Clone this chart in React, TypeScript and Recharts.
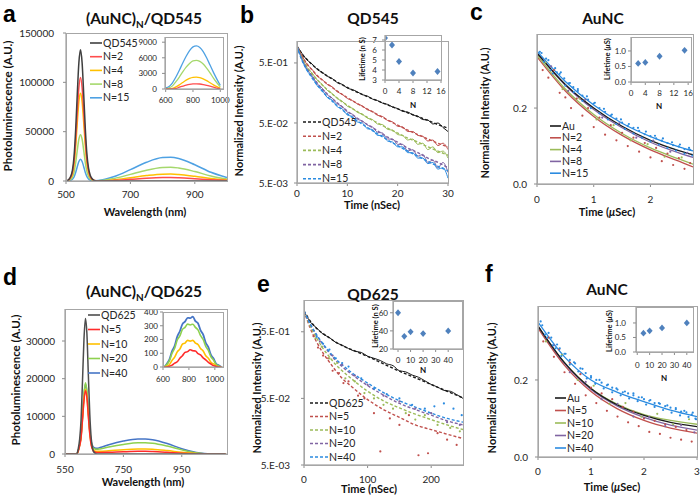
import React from "react";
import { ComposedChart, Line, Scatter, XAxis, YAxis } from "recharts";

const FONT = "Lato, 'Open Sans', sans-serif";
const AXIS = "#8c8c8c";
const FRAME = "#a6a6a6";
const TXT = "#262626";

// ---------- panel a : (AuNC)N/QD545 spectra ----------
const aWave = [500, 505, 510, 515, 520, 525, 530, 535, 540, 545, 550, 555, 560, 565, 570, 575, 580, 585, 590, 600, 650, 700, 750, 800, 825, 850, 900, 950, 1000];
const aQD545 = [0, 500, 2000, 5000, 11000, 25000, 52000, 88000, 120000, 133000, 120000, 88000, 53000, 27000, 13000, 6000, 2800, 1200, 400, 0, 0, 0, 0, 0, 0, 0, 0, 0, 0];
const aN2 = [0, 400, 1600, 4000, 8700, 19800, 41100, 69500, 94800, 105000, 94800, 69500, 41900, 21300, 10300, 4700, 2200, 950, 400, 100, 650, 1700, 2800, 3450, 3500, 3300, 2400, 1300, 500];
const aN4 = [0, 330, 1340, 3350, 7400, 16800, 34800, 59000, 80400, 89000, 80400, 59000, 35500, 18100, 8700, 4000, 1900, 800, 350, 150, 1300, 3400, 5500, 6900, 7000, 6600, 4800, 2600, 1000];
const aN8 = [0, 180, 700, 1800, 3900, 8800, 18400, 31100, 42400, 47000, 42400, 31100, 18700, 9500, 4600, 2100, 1000, 500, 300, 300, 2600, 6700, 11000, 13700, 14000, 13200, 9600, 5100, 2000];
const aN15 = [0, 80, 330, 830, 1800, 4100, 8600, 14500, 19800, 22000, 19800, 14500, 8700, 4500, 2100, 1000, 500, 350, 350, 500, 4500, 11500, 19000, 23700, 24000, 22800, 16500, 8800, 3500];
const aYTicks = [0, 50000, 100000, 150000];
const aXTicks = [500, 700, 900];

const aInWave = [600, 625, 650, 675, 700, 725, 750, 775, 800, 825, 850, 875, 900, 925, 950, 975, 1000];
const aInN15 = [200, 500, 1200, 2300, 3600, 5000, 6300, 7400, 8100, 8300, 8000, 7200, 6000, 4600, 3200, 1900, 700];
const aInN8 = [0, 200, 600, 1400, 2300, 3300, 4200, 4900, 5400, 5500, 5300, 4800, 4000, 3100, 2100, 1200, 400];
const aInN4 = [0, 0, 100, 400, 800, 1250, 1700, 2050, 2250, 2300, 2200, 1950, 1600, 1200, 800, 450, 150];
const aInN2 = [0, 0, 0, 100, 350, 550, 750, 900, 980, 1000, 960, 850, 700, 530, 350, 180, 50];
const aInYTicks = [0, 3000, 6000, 9000];
const aInXTicks = [600, 800, 1000];

// ---------- panel b : QD545 decays ----------
const bDataT = [0, 1, 2, 3, 4, 5, 6, 7, 8, 9, 10, 11, 12, 13, 14, 15, 16, 17, 18, 19, 20, 21, 22, 23, 24, 25, 26, 27, 28, 29, 30];
const bDataQD = [0.97, 0.72, 0.56, 0.48, 0.39, 0.35, 0.3, 0.275, 0.235, 0.22, 0.19, 0.18, 0.165, 0.148, 0.14, 0.125, 0.118, 0.107, 0.102, 0.092, 0.087, 0.078, 0.076, 0.068, 0.065, 0.057, 0.056, 0.048, 0.05, 0.042, 0.036];
const bDataN2 = [0.96, 0.66, 0.47, 0.39, 0.3, 0.265, 0.22, 0.2, 0.165, 0.15, 0.128, 0.118, 0.104, 0.096, 0.083, 0.078, 0.067, 0.064, 0.055, 0.052, 0.044, 0.043, 0.036, 0.036, 0.031, 0.03, 0.025, 0.026, 0.021, 0.023, 0.018];
const bDataN4 = [0.96, 0.61, 0.42, 0.34, 0.26, 0.22, 0.175, 0.155, 0.127, 0.115, 0.095, 0.088, 0.075, 0.07, 0.06, 0.057, 0.048, 0.047, 0.039, 0.038, 0.032, 0.031, 0.026, 0.027, 0.022, 0.023, 0.018, 0.02, 0.016, 0.017, 0.013];
const bDataN8 = [0.96, 0.58, 0.39, 0.31, 0.225, 0.19, 0.148, 0.13, 0.104, 0.094, 0.076, 0.07, 0.058, 0.054, 0.046, 0.043, 0.035, 0.034, 0.027, 0.027, 0.022, 0.022, 0.017, 0.018, 0.014, 0.015, 0.011, 0.012, 0.009, 0.011, 0.0075];
const bDataN15 = [0.96, 0.56, 0.37, 0.29, 0.21, 0.175, 0.133, 0.12, 0.093, 0.086, 0.068, 0.064, 0.052, 0.05, 0.04, 0.039, 0.031, 0.031, 0.025, 0.024, 0.02, 0.02, 0.016, 0.016, 0.013, 0.013, 0.0105, 0.011, 0.0085, 0.009, 0.006];
const bFitT = [0, 1, 2, 3, 4, 5, 6, 7, 8, 10, 12, 14, 16, 18, 20, 22, 24, 26, 28, 30];
const bFitQD = [0.95, 0.7, 0.57, 0.47, 0.4, 0.345, 0.305, 0.27, 0.24, 0.195, 0.162, 0.137, 0.117, 0.1, 0.086, 0.074, 0.064, 0.055, 0.047, 0.041];
const bFitN2 = [0.95, 0.65, 0.48, 0.38, 0.31, 0.26, 0.225, 0.195, 0.17, 0.132, 0.105, 0.085, 0.069, 0.056, 0.046, 0.038, 0.032, 0.027, 0.023, 0.02];
const bFitN4 = [0.95, 0.6, 0.43, 0.33, 0.265, 0.215, 0.18, 0.152, 0.13, 0.098, 0.077, 0.062, 0.05, 0.041, 0.034, 0.028, 0.024, 0.02, 0.017, 0.0145];
const bFitN8 = [0.95, 0.57, 0.4, 0.3, 0.232, 0.185, 0.152, 0.127, 0.108, 0.079, 0.06, 0.047, 0.037, 0.029, 0.024, 0.019, 0.016, 0.013, 0.011, 0.009];
const bFitN15 = [0.95, 0.55, 0.38, 0.28, 0.215, 0.17, 0.138, 0.115, 0.097, 0.071, 0.054, 0.042, 0.033, 0.026, 0.021, 0.017, 0.014, 0.0115, 0.0095, 0.008];
const logTicks = [0.005, 0.05, 0.5];
const bXTicks = [0, 10, 20, 30];

const bInN = [0, 2, 4, 8, 15];
const bInLife = [7.2, 6.5, 4.85, 3.7, 3.85];

// ---------- panel c : AuNC decays (QD545 series) ----------
const cFitT = [0, 0.5, 1, 1.5, 2, 2.5, 2.75];
const cFitAu = [0.345, 0.262, 0.2, 0.152, 0.115, 0.088, 0.077];
const cFitN2 = [0.335, 0.245, 0.178, 0.128, 0.09, 0.06, 0.045];
const cFitN4 = [0.34, 0.25, 0.183, 0.133, 0.095, 0.066, 0.052];
const cFitN8 = [0.345, 0.26, 0.196, 0.148, 0.11, 0.082, 0.07];
const cFitN15 = [0.35, 0.27, 0.208, 0.16, 0.125, 0.098, 0.087];
const cDotT15 = [0.05, 0.12, 0.2, 0.28, 0.35, 0.42, 0.5, 0.58, 0.65, 0.72, 0.8, 0.88, 0.95, 1.02, 1.1, 1.18, 1.25, 1.32, 1.4, 1.48, 1.55, 1.62, 1.7, 1.78, 1.85, 1.92, 2.0, 2.08, 2.15, 2.22, 2.3, 2.38, 2.45, 2.52, 2.6, 2.68, 2.74];
const cDotN15 = [0.348, 0.322, 0.326, 0.291, 0.294, 0.294, 0.259, 0.266, 0.242, 0.25, 0.219, 0.231, 0.2, 0.214, 0.186, 0.198, 0.17, 0.183, 0.158, 0.17, 0.145, 0.158, 0.133, 0.148, 0.122, 0.138, 0.112, 0.127, 0.104, 0.12, 0.095, 0.11, 0.088, 0.104, 0.08, 0.095, 0.075];
const cDotT15b = [0.08, 0.16, 0.24, 0.32, 0.4, 0.48, 0.56, 0.64, 0.72, 0.8, 0.9, 1.0, 1.1, 1.2, 1.3, 1.4, 1.5, 1.6, 1.7, 1.8, 1.9, 2.0, 2.1, 2.2, 2.3, 2.4, 2.5, 2.6, 2.7];
const cDotN15b = [0.345, 0.33, 0.3, 0.305, 0.29, 0.278, 0.265, 0.255, 0.245, 0.233, 0.222, 0.212, 0.2, 0.19, 0.18, 0.172, 0.162, 0.153, 0.148, 0.14, 0.131, 0.126, 0.12, 0.114, 0.108, 0.102, 0.099, 0.092, 0.09];
const cDotT2 = [0.1, 0.2, 0.3, 0.4, 0.5, 0.6, 0.7, 0.8, 0.9, 1.0, 1.1, 1.2, 1.3, 1.4, 1.5, 1.6, 1.7, 1.8, 1.9, 2.0, 2.1, 2.2, 2.3, 2.4, 2.5, 2.6, 2.7];
const cDotN2 = [0.3, 0.28, 0.3, 0.24, 0.228, 0.2, 0.225, 0.18, 0.2, 0.15, 0.175, 0.13, 0.155, 0.115, 0.135, 0.1, 0.122, 0.085, 0.108, 0.07, 0.095, 0.06, 0.08, 0.05, 0.068, 0.04, 0.055];
const cDotT4 = [0.15, 0.45, 0.75, 1.05, 1.35, 1.65, 1.95, 2.25, 2.55];
const cDotN4 = [0.32, 0.25, 0.225, 0.17, 0.155, 0.115, 0.105, 0.072, 0.07];
const cDotT8 = [0.25, 0.55, 0.85, 1.15, 1.45, 1.75, 2.05, 2.35, 2.65];
const cDotN8 = [0.31, 0.245, 0.222, 0.175, 0.16, 0.122, 0.114, 0.085, 0.082];
const cXTicks = [0, 1, 2];
const linYTicks = [0, 0.2];

const cInN = [2, 4, 8, 15];
const cInLife = [0.6, 0.63, 0.83, 1.02];
const usInYTicks = [0, 0.5, 1];
const n16Ticks = [0, 4, 8, 12, 16];

// ---------- panel d : (AuNC)N/QD625 spectra ----------
const dWave = [550, 590, 595, 600, 605, 610, 615, 620, 625, 630, 635, 640, 645, 650, 660, 670, 700, 750, 800, 825, 850, 900, 950, 1000, 1050, 1100];
const dQD625 = [0, 0, 1200, 3800, 9000, 19500, 30500, 36000, 32000, 21000, 10500, 4000, 1300, 400, 0, 0, 0, 0, 0, 0, 0, 0, 0, 0, 0, 0];
const dN5 = [0, 0, 700, 2100, 4300, 9100, 14200, 16800, 15000, 10000, 5200, 2300, 1100, 600, 400, 400, 450, 600, 700, 700, 650, 450, 200, 50, 0, 0];
const dN10 = [0, 0, 700, 2200, 4400, 9300, 14500, 17200, 15300, 10300, 5500, 2500, 1300, 850, 700, 700, 850, 1150, 1300, 1300, 1250, 900, 450, 120, 0, 0];
const dN20 = [0, 0, 800, 2400, 4900, 10200, 15900, 18900, 16800, 11400, 6100, 3000, 1800, 1400, 1250, 1350, 1850, 2550, 3000, 3000, 2850, 2100, 1100, 300, 0, 0];
const dN40 = [0, 0, 800, 2350, 4800, 10000, 15600, 18500, 16500, 11300, 6200, 3200, 2100, 1700, 1500, 1700, 2450, 3450, 4000, 4000, 3800, 2800, 1400, 400, 0, 0];
const dYTicks = [0, 10000, 20000, 30000];
const dXTicks = [550, 750, 950];

const dInWave = [610, 630, 650, 670, 690, 710, 730, 750, 770, 790, 810, 830, 850, 870, 890, 910, 930, 950, 970, 990, 1010, 1030, 1050];
const dInN40 = [0, 24, 55, 116, 154, 222, 260, 312, 330, 358, 355, 366, 334, 318, 266, 236, 176, 144, 88, 62, 22, 12, 0];
const dInN20 = [0, 18, 46, 100, 136, 196, 226, 274, 288, 312, 306, 311, 288, 270, 228, 200, 150, 120, 74, 50, 18, 8, 0];
const dInN10 = [0, 6, 18, 48, 72, 110, 130, 166, 174, 194, 188, 194, 174, 164, 134, 116, 82, 64, 34, 22, 6, 0, 0];
const dInN5 = [0, 0, 6, 14, 28, 38, 64, 82, 106, 112, 126, 118, 116, 98, 88, 66, 52, 34, 22, 10, 4, 0, 0];
const dInYTicks = [0, 100, 200, 300, 400];
const dInXTicks = [600, 800, 1000];

// ---------- panel e : QD625 decays ----------
const eDataT = [0, 10, 20, 30, 40, 50, 60, 70, 80, 90, 100, 110, 120, 130, 140, 150, 160, 170, 180, 190, 200, 210, 220, 230, 240, 250];
const eDataQD = [1.02, 0.7, 0.57, 0.46, 0.41, 0.345, 0.315, 0.28, 0.255, 0.245, 0.215, 0.2, 0.185, 0.165, 0.155, 0.13, 0.125, 0.112, 0.104, 0.092, 0.081, 0.074, 0.066, 0.064, 0.057, 0.05];
const eFitT = [0, 10, 20, 30, 40, 50, 60, 75, 100, 125, 150, 175, 200, 225, 250];
const eFitQD = [1.03, 0.72, 0.56, 0.47, 0.405, 0.35, 0.31, 0.27, 0.213, 0.165, 0.128, 0.102, 0.081, 0.064, 0.051];
const eFitN5 = [1.03, 0.56, 0.35, 0.24, 0.175, 0.13, 0.1, 0.075, 0.048, 0.034, 0.026, 0.02, 0.017, 0.0145, 0.0125];
const eFitN10 = [1.03, 0.6, 0.4, 0.28, 0.21, 0.16, 0.13, 0.098, 0.064, 0.046, 0.036, 0.029, 0.024, 0.02, 0.017];
const eFitN20 = [1.03, 0.64, 0.44, 0.32, 0.24, 0.185, 0.15, 0.115, 0.078, 0.056, 0.042, 0.034, 0.028, 0.023, 0.02];
const eFitN40 = [1.03, 0.65, 0.45, 0.33, 0.25, 0.195, 0.16, 0.122, 0.085, 0.061, 0.046, 0.037, 0.03, 0.025, 0.022];
const eDotT5 = [15, 22, 30, 38, 45, 55, 62, 70, 85, 95, 110, 120, 135, 150, 165, 180, 195, 210, 225, 240];
const eDotN5 = [0.43, 0.29, 0.22, 0.2, 0.13, 0.12, 0.085, 0.09, 0.055, 0.05, 0.03, 0.008, 0.025, 0.02, 0.028, 0.007, 0.0075, 0.015, 0.012, 0.01];
const eDotT10 = [18, 28, 40, 52, 65, 80, 95, 110, 125, 140, 160, 175, 190, 210, 230, 245];
const eDotN10 = [0.4, 0.3, 0.2, 0.17, 0.1, 0.09, 0.06, 0.05, 0.04, 0.035, 0.03, 0.024, 0.028, 0.02, 0.018, 0.016];
const eDotT20 = [25, 45, 60, 80, 100, 125, 150, 175, 200, 225, 245];
const eDotN20 = [0.36, 0.22, 0.16, 0.11, 0.08, 0.055, 0.045, 0.035, 0.03, 0.022, 0.02];
const eDotT40 = [20, 30, 40, 50, 60, 70, 90, 110, 130, 150, 170, 190, 205, 220, 235, 248];
const eDotN40 = [0.42, 0.33, 0.27, 0.2, 0.17, 0.15, 0.1, 0.07, 0.058, 0.05, 0.04, 0.035, 0.038, 0.042, 0.035, 0.028];
const eXTicks = [0, 100, 200];

const eInN = [0, 5, 10, 20, 40];
const eInLife = [60, 34, 39, 37, 40];
const eInYTicks = [20, 40, 60];
const n40Ticks = [0, 10, 20, 30, 40];

// ---------- panel f : AuNC decays (QD625 series) ----------
const fFitT = [0, 0.5, 1, 1.5, 2, 2.5, 3];
const fFitAu = [0.34, 0.245, 0.178, 0.135, 0.108, 0.09, 0.079];
const fFitN5 = [0.335, 0.238, 0.17, 0.125, 0.095, 0.075, 0.062];
const fFitN10 = [0.34, 0.245, 0.178, 0.137, 0.11, 0.095, 0.085];
const fFitN20 = [0.34, 0.243, 0.175, 0.132, 0.103, 0.083, 0.07];
const fFitN40 = [0.35, 0.26, 0.2, 0.168, 0.144, 0.122, 0.105];
const fDotT40 = [0.05, 0.13, 0.2, 0.28, 0.36, 0.44, 0.52, 0.6, 0.68, 0.76, 0.84, 0.92, 1.0, 1.08, 1.16, 1.24, 1.32, 1.4, 1.48, 1.56, 1.64, 1.72, 1.8, 1.88, 1.96, 2.04, 2.12, 2.2, 2.28, 2.36, 2.44, 2.52, 2.6, 2.68, 2.76, 2.84, 2.92, 2.98];
const fDotN40 = [0.352, 0.318, 0.322, 0.29, 0.292, 0.262, 0.268, 0.24, 0.246, 0.222, 0.229, 0.204, 0.21, 0.19, 0.2, 0.178, 0.188, 0.168, 0.178, 0.16, 0.17, 0.152, 0.165, 0.145, 0.155, 0.136, 0.148, 0.13, 0.14, 0.122, 0.134, 0.115, 0.127, 0.108, 0.12, 0.104, 0.115, 0.098];
const fDotT40b = [0.08, 0.17, 0.25, 0.33, 0.41, 0.5, 0.6, 0.7, 0.8, 0.9, 1.0, 1.1, 1.2, 1.3, 1.4, 1.5, 1.6, 1.7, 1.8, 1.9, 2.0, 2.1, 2.2, 2.3, 2.4, 2.5, 2.6, 2.7, 2.8, 2.9, 2.97];
const fDotN40b = [0.342, 0.31, 0.31, 0.282, 0.282, 0.268, 0.252, 0.243, 0.23, 0.218, 0.206, 0.2, 0.193, 0.186, 0.18, 0.175, 0.168, 0.165, 0.16, 0.155, 0.15, 0.146, 0.14, 0.138, 0.132, 0.128, 0.124, 0.118, 0.116, 0.11, 0.1];
const fDotT5 = [0.1, 0.2, 0.3, 0.4, 0.5, 0.6, 0.7, 0.8, 0.9, 1.0, 1.1, 1.2, 1.3, 1.4, 1.5, 1.6, 1.7, 1.8, 1.9, 2.0, 2.1, 2.2, 2.3, 2.4, 2.5, 2.6, 2.7, 2.8, 2.9];
const fDotN5 = [0.3, 0.31, 0.26, 0.28, 0.22, 0.245, 0.19, 0.215, 0.16, 0.18, 0.14, 0.165, 0.12, 0.15, 0.105, 0.13, 0.09, 0.118, 0.08, 0.1, 0.065, 0.094, 0.06, 0.085, 0.05, 0.078, 0.045, 0.07, 0.04];
const fDotT10 = [0.15, 0.45, 0.75, 1.05, 1.35, 1.65, 1.95, 2.25, 2.55, 2.85];
const fDotN10 = [0.3, 0.265, 0.2, 0.185, 0.138, 0.14, 0.105, 0.112, 0.085, 0.098];
const fDotT20 = [0.3, 0.6, 0.9, 1.2, 1.5, 1.8, 2.1, 2.4, 2.7, 2.95];
const fDotN20 = [0.29, 0.22, 0.195, 0.15, 0.138, 0.105, 0.104, 0.08, 0.083, 0.064];
const fXTicks = [0, 1, 2, 3];

const fInN = [5, 10, 20, 40];
const fInLife = [0.65, 0.73, 0.83, 1.0];

// ---------- layout ----------
type Box = { x0: number; y0: number; x1: number; y1: number };
const BOX: Record<string, Box> = {
  a: { x0: 66, y0: 33, x1: 227, y1: 181 },
  b: { x0: 297, y0: 41, x1: 448, y1: 183 },
  c: { x0: 537, y0: 34, x1: 693, y1: 184 },
  d: { x0: 65, y0: 309, x1: 227, y1: 454 },
  e: { x0: 304, y0: 300, x1: 463, y1: 465 },
  f: { x0: 538, y0: 306, x1: 697, y1: 457 },
  ai: { x0: 165, y0: 37, x1: 223, y1: 89 },
  bi: { x0: 385, y0: 35, x1: 441, y1: 80 },
  ci: { x0: 631, y0: 37, x1: 691, y1: 82 },
  di: { x0: 163, y0: 312, x1: 223, y1: 367 },
  ei: { x0: 393, y0: 301, x1: 462, y1: 349 },
  fi: { x0: 636, y0: 307, x1: 693, y1: 352 },
};

const rows = (xs: number[], ys: number[]) => xs.map((x, i) => ({ x, y: ys[i] }));

function Plot({ box, yw, xh, children }: { box: Box; yw: number; xh: number; children: React.ReactNode }) {
  const mt = 8;
  const mr = 12;
  return (
    <div style={{ position: "absolute", left: box.x0 - yw, top: box.y0 - mt }}>
      <ComposedChart
        width={box.x1 - box.x0 + yw + mr}
        height={box.y1 - box.y0 + mt + xh}
        margin={{ top: mt, right: mr, bottom: 0, left: 0 }}
      >
        {children}
      </ComposedChart>
    </div>
  );
}

const tickStyle = (fs: number) => ({ fontSize: fs, fill: TXT, fontFamily: FONT });

function xAxis(domain: number[], ticks: number[], margin: number, fs = 10, h = 30) {
  return (
    <XAxis
      type="number"
      dataKey="x"
      domain={domain}
      ticks={ticks}
      interval={0}
      allowDataOverflow
      stroke={AXIS}
      tickSize={3}
      tickMargin={margin}
      height={h}
      tick={tickStyle(fs)}
    />
  );
}

function yAxis(domain: number[], ticks: number[], margin: number, fmt?: (v: number) => string, log = false, fs = 10, w = 60) {
  return (
    <YAxis
      type="number"
      dataKey="y"
      scale={log ? "log" : "auto"}
      domain={domain}
      ticks={ticks}
      interval={0}
      allowDataOverflow
      stroke={AXIS}
      tickSize={3}
      tickMargin={margin}
      width={w}
      tick={tickStyle(fs)}
      tickFormatter={fmt}
    />
  );
}

const fmtLog = (v: number) => (v >= 0.4 ? "5.E-01" : v >= 0.04 ? "5.E-02" : "5.E-03");
const fmt1 = (v: number) => v.toFixed(1);

function curve(key: string, xs: number[], ys: number[], color: string, width = 1.5, dash?: string) {
  return (
    <Line
      key={key}
      data={rows(xs, ys)}
      dataKey="y"
      type="monotone"
      stroke={color}
      strokeWidth={width}
      strokeDasharray={dash}
      dot={false}
      activeDot={false}
      isAnimationActive={false}
    />
  );
}

function dots(key: string, xs: number[], ys: number[], color: string, r = 1.1) {
  return (
    <Scatter
      key={key}
      data={rows(xs, ys)}
      isAnimationActive={false}
      shape={(p: any) => <circle cx={p.cx} cy={p.cy} r={r} fill={color} />}
    />
  );
}

function diamonds(xs: number[], ys: number[]) {
  return (
    <Scatter
      data={rows(xs, ys)}
      isAnimationActive={false}
      shape={(p: any) => (
        <polygon
          points={`${p.cx},${p.cy - 3.4} ${p.cx + 3},${p.cy} ${p.cx},${p.cy + 3.4} ${p.cx - 3},${p.cy}`}
          fill="#4f81bd"
        />
      )}
    />
  );
}

// series colours
const C_A = { qd: "#3f3f3f", n2: "#ff4d4d", n4: "#ffc000", n8: "#a5d86c", n15: "#4ea1e3" };
const C_D = { qd: "#4d4d4d", n5: "#ff2b2b", n10: "#ffc000", n20: "#8ed14f", n40: "#4675c6" };
const C_T = { k: "#1a1a1a", r: "#c0504d", g: "#9bbb59", p: "#8064a2", b: "#2b8be0" };

function Panels() {
  return (
    <>
      {/* a */}
      <Plot box={BOX.a} yw={60} xh={30}>
        {xAxis([500, 1000], aXTicks, 7)}
        {yAxis([0, 150000], aYTicks, 9)}
        {curve("a15", aWave, aN15, C_A.n15)}
        {curve("a8", aWave, aN8, C_A.n8)}
        {curve("a4", aWave, aN4, C_A.n4)}
        {curve("a2", aWave, aN2, C_A.n2)}
        {curve("aqd", aWave, aQD545, C_A.qd)}
      </Plot>
      <Plot box={BOX.ai} yw={30} xh={18}>
        {xAxis([595, 1020], aInXTicks, 5, 8, 18)}
        {yAxis([0, 10000], aInYTicks, 5, undefined, false, 8, 30)}
        {curve("ai15", aInWave, aInN15, C_A.n15, 1.3)}
        {curve("ai8", aInWave, aInN8, C_A.n8, 1.3)}
        {curve("ai4", aInWave, aInN4, C_A.n4, 1.3)}
        {curve("ai2", aInWave, aInN2, C_A.n2, 1.3)}
      </Plot>

      {/* b */}
      <Plot box={BOX.b} yw={60} xh={30}>
        {xAxis([0, 30], bXTicks, 4)}
        {yAxis([0.005, 1.16], logTicks, 6, fmtLog, true)}
        {curve("bd0", bDataT, bDataQD, C_T.k, 1)}
        {curve("bd2", bDataT, bDataN2, C_T.r, 1)}
        {curve("bd4", bDataT, bDataN4, C_T.g, 1)}
        {curve("bd8", bDataT, bDataN8, C_T.p, 1)}
        {curve("bd15", bDataT, bDataN15, C_T.b, 1)}
        {curve("bf0", bFitT, bFitQD, C_T.k, 1.4, "3 2")}
        {curve("bf2", bFitT, bFitN2, C_T.r, 1.4, "3 2")}
        {curve("bf4", bFitT, bFitN4, C_T.g, 1.4, "3 2")}
        {curve("bf8", bFitT, bFitN8, C_T.p, 1.4, "3 2")}
        {curve("bf15", bFitT, bFitN15, C_T.b, 1.4, "3 2")}
      </Plot>
      <Plot box={BOX.bi} yw={25} xh={18}>
        {xAxis([0, 16], n16Ticks, 5, 8, 18)}
        {yAxis([3, 7.5], [3, 4, 5, 6, 7], 5, undefined, false, 8, 25)}
        {diamonds(bInN, bInLife)}
      </Plot>

      {/* c */}
      <Plot box={BOX.c} yw={60} xh={30}>
        {xAxis([0, 2.75], cXTicks, 9)}
        {yAxis([0, 0.395], linYTicks, 7, fmt1)}
        {dots("cd2", cDotT2, cDotN2, C_T.r)}
        {dots("cd4", cDotT4, cDotN4, C_T.g)}
        {dots("cd8", cDotT8, cDotN8, C_T.p)}
        {dots("cd15", cDotT15, cDotN15, C_T.b)}
        {dots("cd15b", cDotT15b, cDotN15b, C_T.b)}
        {curve("cf2", cFitT, cFitN2, C_T.r, 1.3)}
        {curve("cf4", cFitT, cFitN4, C_T.g, 1.3)}
        {curve("cf8", cFitT, cFitN8, C_T.p, 1.3)}
        {curve("cfa", cFitT, cFitAu, C_T.k, 1.3)}
        {curve("cf15", cFitT, cFitN15, C_T.b, 1.3)}
      </Plot>
      <Plot box={BOX.ci} yw={25} xh={18}>
        {xAxis([0, 16.8], n16Ticks, 5, 8, 18)}
        {yAxis([0, 1.45], usInYTicks, 2, fmt1, false, 8, 25)}
        {diamonds(cInN, cInLife)}
      </Plot>

      {/* d */}
      <Plot box={BOX.d} yw={60} xh={30}>
        {xAxis([550, 1105], dXTicks, 9)}
        {yAxis([0, 38500], dYTicks, 7)}
        {curve("d40", dWave, dN40, C_D.n40)}
        {curve("d20", dWave, dN20, C_D.n20)}
        {curve("d10", dWave, dN10, C_D.n10)}
        {curve("d5", dWave, dN5, C_D.n5)}
        {curve("dqd", dWave, dQD625, C_D.qd)}
      </Plot>
      <Plot box={BOX.di} yw={25} xh={18}>
        {xAxis([600, 1063], dInXTicks, 6, 8, 18)}
        {yAxis([0, 400], dInYTicks, 2, undefined, false, 8, 25)}
        {curve("di40", dInWave, dInN40, C_D.n40, 1.8)}
        {curve("di20", dInWave, dInN20, C_D.n20, 1.6)}
        {curve("di10", dInWave, dInN10, C_D.n10, 1.6)}
        {curve("di5", dInWave, dInN5, C_D.n5, 1.6)}
      </Plot>

      {/* e */}
      <Plot box={BOX.e} yw={60} xh={30}>
        {xAxis([0, 250], eXTicks, 8)}
        {yAxis([0.005, 1.5], logTicks, 11, fmtLog, true)}
        {dots("ed5", eDotT5, eDotN5, C_T.r)}
        {dots("ed10", eDotT10, eDotN10, C_T.g)}
        {dots("ed20", eDotT20, eDotN20, C_T.p)}
        {dots("ed40", eDotT40, eDotN40, C_T.b)}
        {curve("ed0", eDataT, eDataQD, C_T.k, 1)}
        {curve("ef0", eFitT, eFitQD, C_T.k, 1.4, "3 2")}
        {curve("ef5", eFitT, eFitN5, C_T.r, 1.4, "3 2")}
        {curve("ef10", eFitT, eFitN10, C_T.g, 1.4, "3 2")}
        {curve("ef20", eFitT, eFitN20, C_T.p, 1.4, "3 2")}
        {curve("ef40", eFitT, eFitN40, C_T.b, 1.4, "3 2")}
      </Plot>
      <Plot box={BOX.ei} yw={25} xh={18}>
        {xAxis([-4, 51], n40Ticks, 5, 8, 18)}
        {yAxis([20, 73], eInYTicks, 2, undefined, false, 8, 25)}
        {diamonds(eInN, eInLife)}
      </Plot>

      {/* f */}
      <Plot box={BOX.f} yw={60} xh={30}>
        {xAxis([0, 3], fXTicks, 8)}
        {yAxis([0, 0.392], linYTicks, 7, fmt1)}
        {dots("fd5", fDotT5, fDotN5, C_T.r)}
        {dots("fd10", fDotT10, fDotN10, C_T.g)}
        {dots("fd20", fDotT20, fDotN20, C_T.p)}
        {dots("fd40", fDotT40, fDotN40, C_T.b)}
        {dots("fd40b", fDotT40b, fDotN40b, C_T.b)}
        {curve("ff5", fFitT, fFitN5, C_T.r, 1.3)}
        {curve("ff10", fFitT, fFitN10, C_T.g, 1.3)}
        {curve("ff20", fFitT, fFitN20, C_T.p, 1.3)}
        {curve("ffa", fFitT, fFitAu, C_T.k, 1.3)}
        {curve("ff40", fFitT, fFitN40, C_T.b, 1.3)}
      </Plot>
      <Plot box={BOX.fi} yw={25} xh={18}>
        {xAxis([-1, 45], n40Ticks, 7, 8, 18)}
        {yAxis([0, 1.55], usInYTicks, 7, fmt1, false, 8, 25)}
        {diamonds(fInN, fInLife)}
      </Plot>
    </>
  );
}

// ---------- text, frames and legends ----------
type Item = { name: string; color: string };

function Legend({ x, y, dy, len, dash, items, fs = 10.5 }: { x: number; y: number; dy: number; len: number; dash?: string; items: Item[]; fs?: number }) {
  return (
    <g>
      {items.map((it, i) => (
        <g key={it.name}>
          <line x1={x} x2={x + len} y1={y + i * dy} y2={y + i * dy} stroke={it.color} strokeWidth={1.6} strokeDasharray={dash} />
          <text x={x + len + 1} y={y + i * dy} dy="0.35em" fontSize={fs} fill={TXT} fontFamily={FONT}>
            {it.name}
          </text>
        </g>
      ))}
    </g>
  );
}

function YTitle({ x, y, fs, children }: { x: number; y: number; fs: number; children: React.ReactNode }) {
  return (
    <text transform={`translate(${x},${y}) rotate(-90)`} textAnchor="middle" dy="0.35em" fontSize={fs} fontWeight="bold" fill="#111" fontFamily={FONT}>
      {children}
    </text>
  );
}

function XTitle({ x, y, fs = 11, children }: { x: number; y: number; fs?: number; children: React.ReactNode }) {
  return (
    <text x={x} y={y} textAnchor="middle" fontSize={fs} fontWeight="bold" fill="#111" fontFamily={FONT}>
      {children}
    </text>
  );
}

function Overlay() {
  const frames = Object.keys(BOX).map((k) => {
    const b = BOX[k];
    return <rect key={k} x={b.x0 + 0.5} y={b.y0 + 0.5} width={b.x1 - b.x0} height={b.y1 - b.y0} fill="none" stroke={FRAME} strokeWidth={1} />;
  });
  const letters: [string, number, number][] = [
    ["a", 3, 22], ["b", 240, 23], ["c", 470, 20], ["d", 3, 285], ["e", 257, 292], ["f", 485, 282],
  ];
  const mu = <tspan fontStyle="italic">μ</tspan>;
  return (
    <svg width={700} height={496} style={{ position: "absolute", left: 0, top: 0, pointerEvents: "none" }}>
      {frames}
      {letters.map(([t, x, y]) => (
        <text key={t} x={x} y={y} fontSize={23} fontWeight="bold" fill="#000" fontFamily="'Liberation Sans', Arial, sans-serif">
          {t}
        </text>
      ))}

      {/* panel titles */}
      <text x={144} y={24} textAnchor="middle" fontSize={15.5} fontWeight="bold" fill="#111" fontFamily={FONT}>
        (AuNC)<tspan fontSize={10} dy={4}>N</tspan><tspan dy={-4}>/QD545</tspan>
      </text>
      <text x={373} y={24} textAnchor="middle" fontSize={15.5} fontWeight="bold" fill="#111" fontFamily={FONT}>QD545</text>
      <text x={603} y={24} textAnchor="middle" fontSize={15.5} fontWeight="bold" fill="#111" fontFamily={FONT}>AuNC</text>
      <text x={144} y={297} textAnchor="middle" fontSize={15.5} fontWeight="bold" fill="#111" fontFamily={FONT}>
        (AuNC)<tspan fontSize={10} dy={4}>N</tspan><tspan dy={-4}>/QD625</tspan>
      </text>
      <text x={373} y={300} textAnchor="middle" fontSize={15.5} fontWeight="bold" fill="#111" fontFamily={FONT}>QD625</text>
      <text x={607} y={295} textAnchor="middle" fontSize={15.5} fontWeight="bold" fill="#111" fontFamily={FONT}>AuNC</text>

      {/* axis titles */}
      <XTitle x={145} y={216}>Wavelength (nm)</XTitle>
      <XTitle x={372} y={209}>Time (nSec)</XTitle>
      <XTitle x={607} y={216}>Time ({mu}Sec)</XTitle>
      <XTitle x={143} y={486}>Wavelength (nm)</XTitle>
      <XTitle x={369} y={493}>Time (nSec)</XTitle>
      <XTitle x={612} y={491}>Time ({mu}Sec)</XTitle>
      <YTitle x={8} y={106} fs={11.5}>Photoluminescence (A.U.)</YTitle>
      <YTitle x={239} y={111} fs={11}>Normalized Intensity (A.U.)</YTitle>
      <YTitle x={485} y={113} fs={11}>Normalized Intensity (A.U.)</YTitle>
      <YTitle x={16} y={380} fs={11.5}>Photoluminescence (A.U.)</YTitle>
      <YTitle x={257} y={388} fs={11}>Normalized Intensity (A.U.)</YTitle>
      <YTitle x={492} y={388} fs={11}>Normalized Intensity (A.U.)</YTitle>

      {/* inset titles */}
      <XTitle x={413} y={108} fs={8}>N</XTitle>
      <XTitle x={659} y={109} fs={8}>N</XTitle>
      <XTitle x={423} y={373} fs={8}>N</XTitle>
      <XTitle x={664} y={381} fs={8}>N</XTitle>
      <YTitle x={362} y={59} fs={7.5}>Lifetime (n S)</YTitle>
      <YTitle x={607} y={59} fs={7.5}>Lifetime ({mu}S)</YTitle>
      <YTitle x={375} y={326} fs={7.5}>Lifetime (n S)</YTitle>
      <YTitle x={609} y={331} fs={7.5}>Lifetime ({mu}S)</YTitle>

      {/* legends */}
      <Legend x={90} y={43} dy={13.7} len={12} items={[
        { name: "QD545", color: C_A.qd }, { name: "N=2", color: C_A.n2 }, { name: "N=4", color: C_A.n4 },
        { name: "N=8", color: C_A.n8 }, { name: "N=15", color: C_A.n15 },
      ]} />
      <Legend x={303} y={122} dy={14.2} len={18} dash="3 2" items={[
        { name: "QD545", color: C_T.k }, { name: "N=2", color: C_T.r }, { name: "N=4", color: C_T.g },
        { name: "N=8", color: C_T.p }, { name: "N=15", color: C_T.b },
      ]} />
      <Legend x={550} y={126} dy={11.8} len={11} items={[
        { name: "Au", color: C_T.k }, { name: "N=2", color: C_T.r }, { name: "N=4", color: C_T.g },
        { name: "N=8", color: C_T.p }, { name: "N=15", color: C_T.b },
      ]} />
      <Legend x={88} y={315} dy={14.5} len={12} items={[
        { name: "QD625", color: C_D.qd }, { name: "N=5", color: C_D.n5 }, { name: "N=10", color: C_D.n10 },
        { name: "N=20", color: C_D.n20 }, { name: "N=40", color: C_D.n40 },
      ]} />
      <Legend x={310} y={403} dy={13.5} len={18} dash="3 2" items={[
        { name: "QD625", color: C_T.k }, { name: "N=5", color: C_T.r }, { name: "N=10", color: C_T.g },
        { name: "N=20", color: C_T.p }, { name: "N=40", color: C_T.b },
      ]} />
      <Legend x={555} y={398} dy={12.5} len={11} items={[
        { name: "Au", color: C_T.k }, { name: "N=5", color: C_T.r }, { name: "N=10", color: C_T.g },
        { name: "N=20", color: C_T.p }, { name: "N=40", color: C_T.b },
      ]} />
    </svg>
  );
}

export default function App() {
  return (
    <div style={{ position: "absolute", left: 0, top: 0, width: 700, height: 496, background: "#fff", overflow: "hidden" }}>
      <Panels />
      <Overlay />
    </div>
  );
}
